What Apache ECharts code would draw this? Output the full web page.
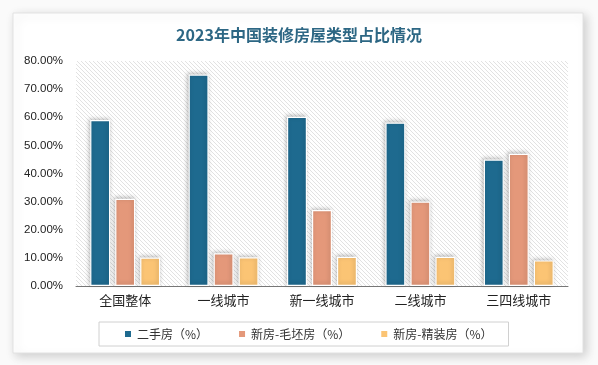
<!DOCTYPE html>
<html>
<head>
<meta charset="utf-8">
<script src="https://cdn.jsdelivr.net/npm/echarts@6/dist/echarts.min.js"></script>
<style>
html,body{margin:0;padding:0;background:#fafafa;}
#c{width:598px;height:365px;}
</style>
</head>
<body>
<div id="c"></div>
<script>
var categories = ["全国整体", "一线城市", "新一线城市", "二线城市", "三四线城市"];
var seriesNames = ["二手房（%）", "新房-毛坯房（%）", "新房-精装房（%）"];
var secondHand = [59.0, 75.2, 60.2, 58.1, 45.0];
var newRough = [31.0, 11.6, 27.0, 30.0, 47.0];
var newFinished = [10.1, 10.2, 10.4, 10.4, 9.1];
var yTicks = [0, 10, 20, 30, 40, 50, 60, 70, 80];

var pc = document.createElement('canvas');
pc.width = 4; pc.height = 4;
var ctx = pc.getContext('2d');
ctx.fillStyle = '#ffffff';
ctx.fillRect(0, 0, 4, 4);
ctx.strokeStyle = '#e2e2e2';
ctx.lineWidth = 1;
ctx.beginPath();
ctx.moveTo(-1, -1); ctx.lineTo(5, 5);
ctx.moveTo(-1, 3); ctx.lineTo(1, 5);
ctx.moveTo(3, -1); ctx.lineTo(5, 1);
ctx.stroke();

var colors = ['#1e6a8f', '#e4987a', '#fbc474'];
var barStyle = function (c) {
  return {
    color: c,
    borderColor: '#ffffff',
    borderWidth: 1.2,
    shadowColor: 'rgba(0,0,0,0.25)',
    shadowBlur: 4,
    shadowOffsetX: -1,
    shadowOffsetY: -1
  };
};

var chart = echarts.init(document.getElementById('c'));
chart.setOption({
  animation: false,
  backgroundColor: '#fafafa',
  graphic: [{
    type: 'rect',
    z: -10,
    shape: {x: 13, y: 13, width: 570, height: 340},
    style: {fill: '#ffffff', stroke: '#e2e2e2', lineWidth: 1,
      shadowColor: 'rgba(0,0,0,0.18)', shadowBlur: 10, shadowOffsetX: 3, shadowOffsetY: 3}
  }],
  title: {
    text: '2023年中国装修房屋类型占比情况',
    left: 'center',
    top: 22,
    textStyle: {fontFamily: 'Noto Sans CJK SC', fontSize: 16, fontWeight: 'bold', color: '#2d6784'}
  },
  legend: {
    left: 99,
    top: 322,
    padding: [6, 16, 6, 24],
    borderColor: '#d0d0d0',
    borderWidth: 1,
    itemWidth: 8,
    itemHeight: 8,
    itemGap: 29,
    icon: 'rect',
    textStyle: {fontFamily: 'Noto Sans CJK SC', fontSize: 12, color: '#333'},
    data: seriesNames
  },
  grid: {
    left: 76, right: 30, top: 61, bottom: 79,
    show: true,
    borderWidth: 0,
    backgroundColor: {image: pc, repeat: 'repeat'}
  },
  xAxis: {
    type: 'category',
    data: categories,
    axisLine: {lineStyle: {color: '#777', width: 1}},
    axisTick: {show: false},
    axisLabel: {interval: 0, fontFamily: 'Noto Sans CJK SC', fontSize: 13, color: '#222', margin: 8}
  },
  yAxis: {
    type: 'value',
    min: yTicks[0],
    max: yTicks[yTicks.length - 1],
    interval: 10,
    axisLine: {show: false},
    axisTick: {show: false},
    splitLine: {show: false},
    axisLabel: {fontFamily: 'Liberation Sans', fontSize: 11.5, color: '#222', margin: 13,
      formatter: function (v) { return v.toFixed(2) + '%'; }}
  },
  series: [
    {name: seriesNames[0], type: 'bar', data: secondHand, barWidth: 20, barGap: '25%', itemStyle: barStyle(colors[0])},
    {name: seriesNames[1], type: 'bar', data: newRough, barWidth: 20, barGap: '25%', itemStyle: barStyle(colors[1])},
    {name: seriesNames[2], type: 'bar', data: newFinished, barWidth: 20, barGap: '25%', itemStyle: barStyle(colors[2])}
  ]
});
</script>
</body>
</html>
